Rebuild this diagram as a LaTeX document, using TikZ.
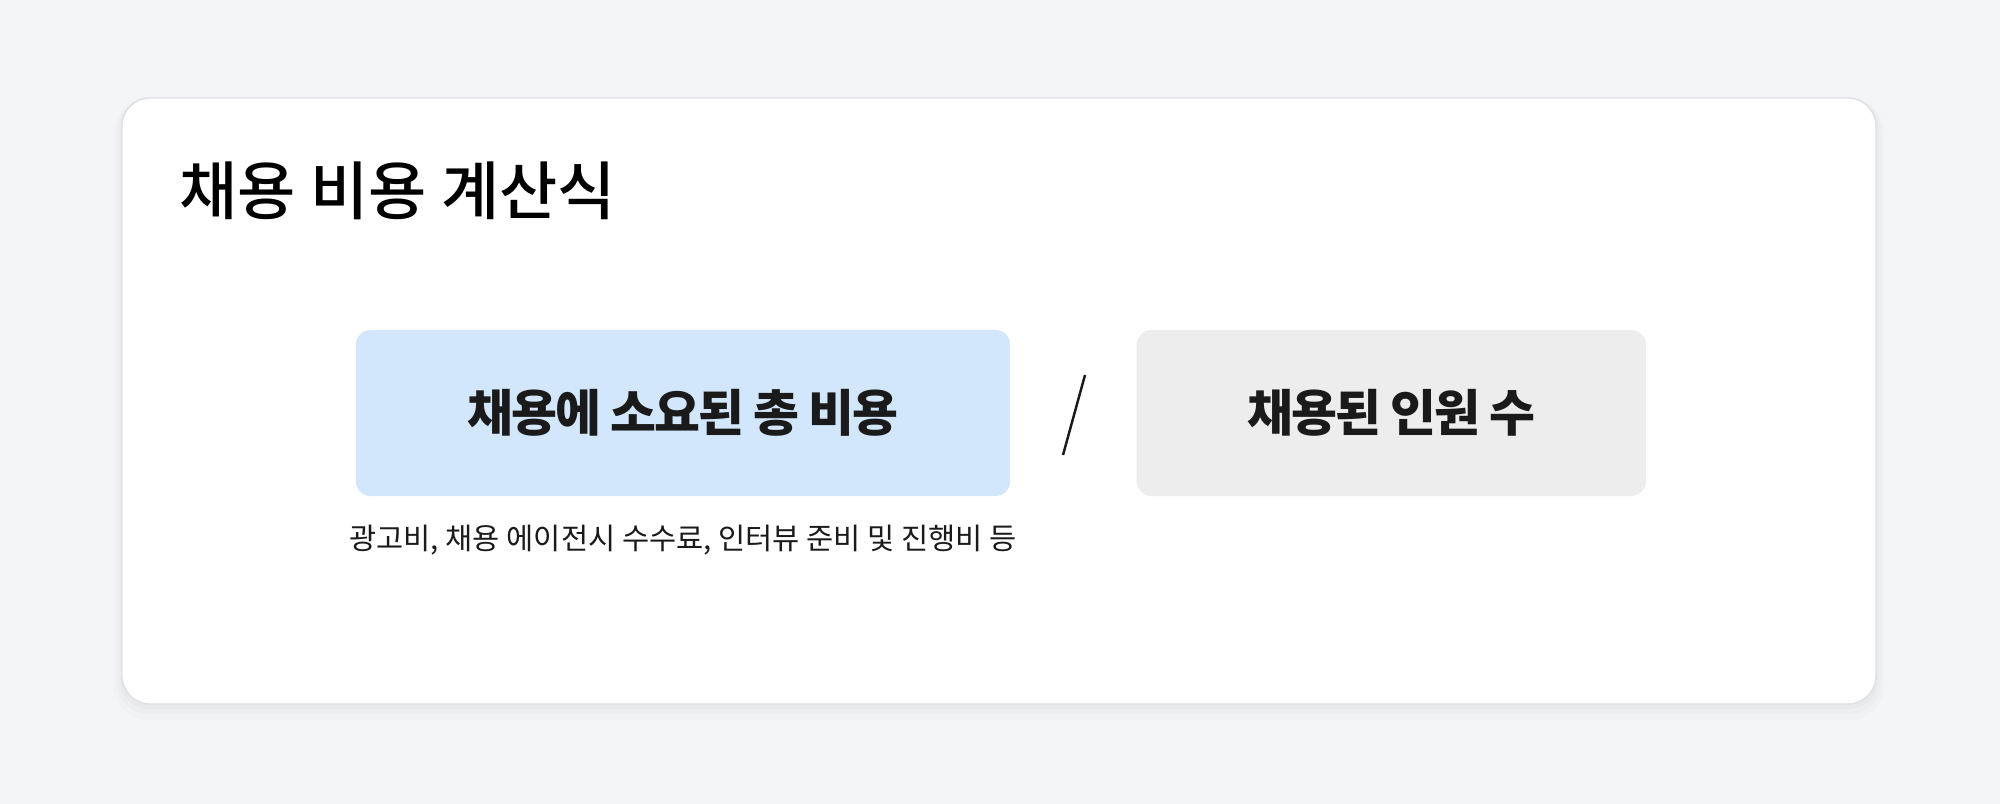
\documentclass[tikz,border=0pt]{standalone}
\usepackage{fontspec}
\usepackage{tikz}
\usetikzlibrary{positioning}
\newfontfamily\krfont{Noto Sans CJK KR}
\newfontfamily\krmed{Noto Sans CJK KR Medium}
\newfontfamily\krtight[LetterSpace=-4.4]{Noto Sans CJK KR}

\definecolor{pagebg}{HTML}{F4F5F7}
\definecolor{cardline}{HTML}{E0E1E6}
\definecolor{costblue}{HTML}{D2E6FC}
\definecolor{hiregray}{HTML}{EDEDED}
\definecolor{inkdark}{HTML}{1A1A1A}

\tikzset{
  termbox/.style={rounded corners=0.15cm, minimum height=1.66cm,
    inner sep=0pt, font=\krtight\fontsize{14.2}{16}\selectfont\bfseries,
    text=inkdark},
}

\begin{document}
\begin{tikzpicture}[x=0.01cm,y=-0.01cm]

  \useasboundingbox[fill=pagebg] (0,0) rectangle (2000,804);

        % card with soft shadow
  \fill[black, opacity=0.012, rounded corners=0.34cm] (114,98) rectangle (1884,720);
  \fill[black, opacity=0.015, rounded corners=0.31cm] (117,98) rectangle (1881,714);
  \fill[black, opacity=0.02, rounded corners=0.29cm] (120,98) rectangle (1878,709);
  \draw[cardline, fill=white, line width=0.4pt, rounded corners=0.28cm]
    (122,98) rectangle (1876,704);

        % title
  \node[anchor=base west, inner sep=0pt, font=\krmed\fontsize{18}{22}\selectfont]
    (title) at (179,215) {채용 비용 계산식};

        % formula
  \node[termbox, fill=costblue, minimum width=6.54cm] (cost) at (683,413)
    {채용에 소요된 총 비용};
  \node[termbox, fill=hiregray, minimum width=5.09cm, right=1.25cm of cost]
    (hires) {채용된 인원 수};

  \coordinate (s1) at (1085,375);
  \coordinate (s2) at (1063,455);
  \draw[inkdark, line width=0.7pt] (s1) -- (s2);

  \node[below=0.28cm of cost, inner sep=0pt, text=inkdark,
    font=\krfont\fontsize{8.4}{10}\selectfont] (costnote)
    {광고비, 채용 에이전시 수수료, 인터뷰 준비 및 진행비 등};

\end{tikzpicture}
\end{document}
